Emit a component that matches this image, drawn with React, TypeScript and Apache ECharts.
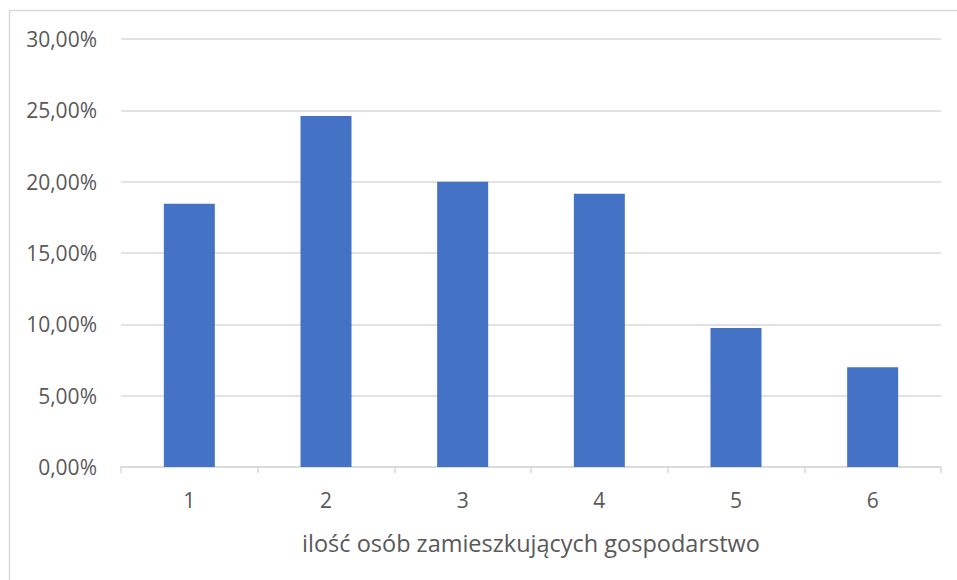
import React, { useEffect, useRef } from "react";
import * as echarts from "echarts";

const categories = ["1", "2", "3", "4", "5", "6"];
const shares = [18.45, 24.6, 20.0, 19.15, 9.75, 7.0];
const axisName = "ilość osób zamieszkujących gospodarstwo";

export default function App() {
  const ref = useRef<HTMLDivElement>(null);
  useEffect(() => {
    if (!ref.current) return;
    const chart = echarts.init(ref.current, null, { renderer: "svg" });
    const font = "'Open Sans', 'Noto Sans', sans-serif";
    chart.setOption({
      animation: false,
      backgroundColor: "#ffffff",
      textStyle: { fontFamily: font },
      graphic: [
        {
          type: "rect",
          shape: { x: 9.5, y: 10.5, width: 1000, height: 700 },
          style: { fill: "none", stroke: "#d9d9d9", lineWidth: 1.5 },
          silent: true,
        },
      ],
      grid: { left: 121, right: 16, top: 39, bottom: 113 },
      xAxis: {
        type: "category",
        data: categories,
        name: axisName,
        nameLocation: "middle",
        nameGap: 64,
        nameTextStyle: { fontSize: 23.5, color: "#595959", fontFamily: font },
        axisLine: { lineStyle: { color: "#d9d9d9", width: 1.5 } },
        axisTick: { show: true, length: 6, lineStyle: { color: "#d9d9d9", width: 1.5 } },
        axisLabel: { fontSize: 21, color: "#595959", margin: 22, fontFamily: font },
      },
      yAxis: {
        type: "value",
        min: 0,
        max: 30,
        interval: 5,
        axisLine: { show: false },
        axisTick: { show: false },
        splitLine: { lineStyle: { color: "#d9d9d9", width: 1.5 } },
        axisLabel: {
          fontSize: 21,
          color: "#595959",
          margin: 24,
          fontFamily: font,
          formatter: (v: number) => v.toFixed(2).replace(".", ",") + "%",
        },
      },
      series: [
        {
          type: "bar",
          data: shares,
          barWidth: 51,
          itemStyle: { color: "#4472c4" },
        },
      ],
    });
    return () => chart.dispose();
  }, []);
  return (
    <div
      ref={ref}
      style={{ position: "fixed", left: 0, top: 0, width: 957, height: 580 }}
    />
  );
}
